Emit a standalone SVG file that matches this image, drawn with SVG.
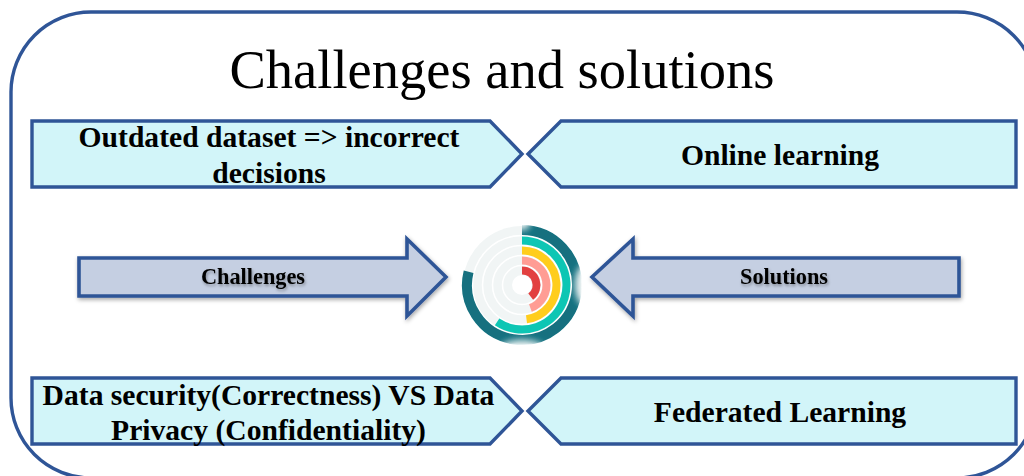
<svg xmlns="http://www.w3.org/2000/svg" width="1024" height="476" viewBox="0 0 1024 476">
<defs>
<style>
text{font-family:"Liberation Serif","Times New Roman",serif;fill:#000;text-anchor:middle}
.t{font-weight:bold;font-size:29.6px}
.s{font-weight:bold;font-size:22.3px;filter:url(#ts)}
.p{fill:#d2f5f9;stroke:#2f5597;stroke-width:3.4}
.a{fill:#c5cfe2;stroke:#2f5597;stroke-width:3.6;filter:url(#sh)}
.r{fill:none}
</style>
<filter id="sh" x="-5%" y="-10%" width="110%" height="125%"><feDropShadow dx="1" dy="2" stdDeviation="2" flood-color="#000" flood-opacity=".35"/></filter>
<filter id="ts" x="-10%" y="-20%" width="120%" height="150%"><feDropShadow dx="1" dy="2" stdDeviation="1.5" flood-color="#000" flood-opacity=".35"/></filter>
<filter id="b" x="-5%" y="-5%" width="110%" height="110%"><feGaussianBlur stdDeviation=".4"/></filter>
<filter id="bb" x="-50%" y="-50%" width="200%" height="200%"><feGaussianBlur stdDeviation="3.5"/></filter>
<mask id="fade" maskUnits="userSpaceOnUse" x="450" y="215" width="145" height="140">
<rect x="450" y="215" width="145" height="140" fill="#fff"/>
<g filter="url(#bb)" fill="#000"><ellipse cx="585" cy="285" rx="10" ry="20"/><ellipse cx="522" cy="349" rx="22" ry="9"/><ellipse cx="522" cy="223" rx="8" ry="7"/></g>
</mask>
</defs>
<g id="frame"><rect x="11" y="12" width="1026" height="466" rx="80" ry="80" fill="#fff" stroke="#2f5597" stroke-width="3.4"/></g>
<g id="title"><text x="502" y="88" font-size="54.5">Challenges and solutions</text></g>
<g id="connectors"/>
<g id="node-outdated"><path class="p" d="M32 121H490L522 154 490 187H32Z"/><text class="t" x="269" y="147">Outdated dataset =&gt; incorrect</text><text class="t" x="269" y="183">decisions</text></g>
<g id="node-online"><path class="p" d="M1016 121H561L528 154 561 187H1016Z"/><text class="t" x="780" y="165">Online learning</text></g>
<g id="node-security"><path class="p" d="M32 378H490L522 411 490 444H32Z"/><text class="t" x="268.500" y="405">Data security(Correctness) VS Data</text><text class="t" x="268.500" y="440">Privacy (Confidentiality)</text></g>
<g id="node-federated"><path class="p" d="M1016 378H561L528 411 561 444H1016Z"/><text class="t" x="780" y="422">Federated Learning</text></g>
<g id="node-challenges"><path class="a" d="M79 258H407V239L446 277 407 316V296H79Z"/><text class="s" x="253" y="284">Challenges</text></g>
<g id="node-solutions"><path class="a" d="M959 258H633V239L592 277 633 316V296H959Z"/><text class="s" x="784" y="284">Solutions</text></g>
<g id="node-radial" filter="url(#b)">
<circle cx="522" cy="285" r="59" fill="#f1f5f5"/>
<g fill="none" stroke="#fff" stroke-width="1.5"><circle cx="522" cy="285" r="49.5"/><circle cx="522" cy="285" r="39.5"/><circle cx="522" cy="285" r="29.5"/><circle cx="522" cy="285" r="19.5"/></g>
<circle cx="522" cy="285" r="10" fill="#fff"/>
<path class="r" mask="url(#fade)" stroke="#12707f" stroke-width="10" d="M522 230A55 55 0 1 1 468.600 271.800"/>
<path class="r" stroke="#0cc6b4" stroke-width="8" d="M522 240.500A44.500 44.500 0 1 1 497.100 321.900"/>
<path class="r" stroke="#ffcd1f" stroke-width="8" d="M522 250.500A34.500 34.500 0 0 1 526.500 319.200"/>
<path class="r" stroke="#ff9d94" stroke-width="8" d="M522 260.500A24.500 24.500 0 0 1 530.400 308"/>
<path class="r" stroke="#e2403f" stroke-width="8" d="M522 270.500A14.500 14.500 0 0 1 530.700 296.600"/>
</g>
</svg>
